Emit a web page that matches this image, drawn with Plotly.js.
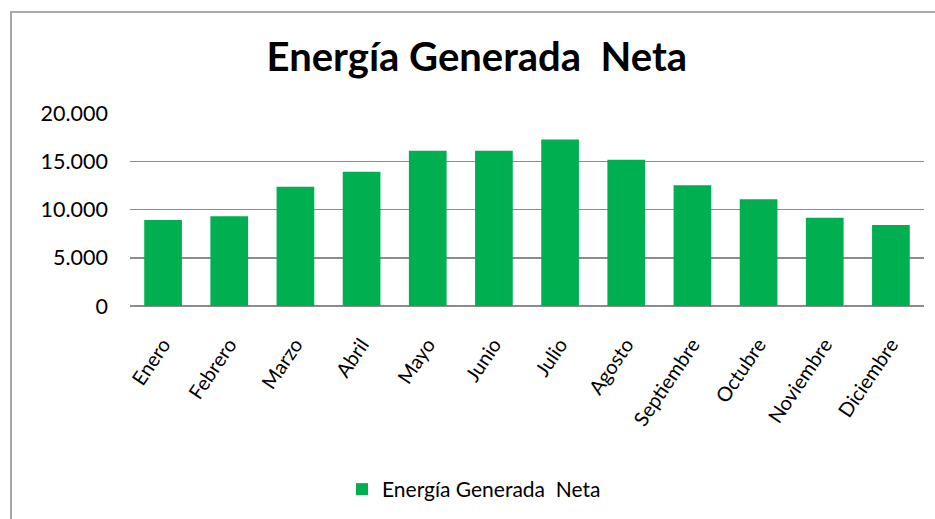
<!DOCTYPE html>
<html>
<head>
<meta charset="utf-8">
<script src="https://cdn.plot.ly/plotly-3.0.1.min.js"></script>
<style>
  html, body { margin: 0; padding: 0; background: #fff; overflow: hidden; width: 935px; height: 519px; }
  #chart { width: 935px; height: 519px; }
  .fline { position: absolute; background: #a8a8a8; pointer-events: none; }
  #ftop { left: 10px; top: 11px; width: 925px; height: 2px; }
  #fleft { left: 10px; top: 11px; width: 2px; height: 508px; }
</style>
</head>
<body>
<div id="chart"></div>
<div class="fline" id="ftop"></div>
<div class="fline" id="fleft"></div>
<script>
const months = ["Enero", "Febrero", "Marzo", "Abril", "Mayo", "Junio", "Julio",
                "Agosto", "Septiembre", "Octubre", "Noviembre", "Diciembre"];
const energia = [8900, 9300, 12350, 13900, 16100, 16100, 17250, 15150, 12500, 11050, 9150, 8400];
const seriesName = "Energía Generada  Neta";
const titleText = "Energía Generada  Neta";
const yTicks = [0, 5000, 10000, 15000, 20000];

const FONT = 'Lato, "Open Sans", sans-serif';

const trace = {
  type: "bar",
  x: months,
  y: energia,
  name: seriesName,
  marker: { color: "#00B050" },
  showlegend: true,
  hoverinfo: "x+y"
};

const layout = {
  width: 935, height: 519,
  margin: { l: 130, r: 11, t: 113, b: 213 },
  paper_bgcolor: "#ffffff",
  plot_bgcolor: "#ffffff",
  separators: ",.",
  bargap: 0.43,
  font: { family: FONT, color: "#000000" },
  title: {
    text: "<b>" + titleText + "</b>",
    font: { family: FONT, size: 40, color: "#000000" },
    xref: "container", x: 0.51, xanchor: "center",
    yref: "container", y: 1 - 57 / 519, yanchor: "middle"
  },
  xaxis: {
    type: "category",
    tickangle: -56,
    tickfont: { family: FONT, size: 20, color: "#000000" },
    showgrid: false, showline: false, zeroline: false,
    ticks: "", ticklabelstandoff: 22
  },
  yaxis: {
    range: [0, 20000],
    tickvals: yTicks,
    tickformat: ",d",
    tickfont: { family: FONT, size: 21.5, color: "#000000" },
    showgrid: true, gridcolor: "#8c8c8c", gridwidth: 1.5,
    zeroline: true, zerolinecolor: "#8c8c8c", zerolinewidth: 1.5,
    showline: false, ticks: "", ticklabelstandoff: 21
  },
  showlegend: true,
  legend: {
    orientation: "h",
    xref: "container", x: 342 / 935, xanchor: "left",
    yref: "container", y: 1 - 489.5 / 519, yanchor: "middle",
    font: { family: FONT, size: 21, color: "#000000" },
    bgcolor: "rgba(0,0,0,0)"
  }
};

Plotly.newPlot("chart", [trace], layout, { displayModeBar: false, staticPlot: true });
</script>
</body>
</html>
